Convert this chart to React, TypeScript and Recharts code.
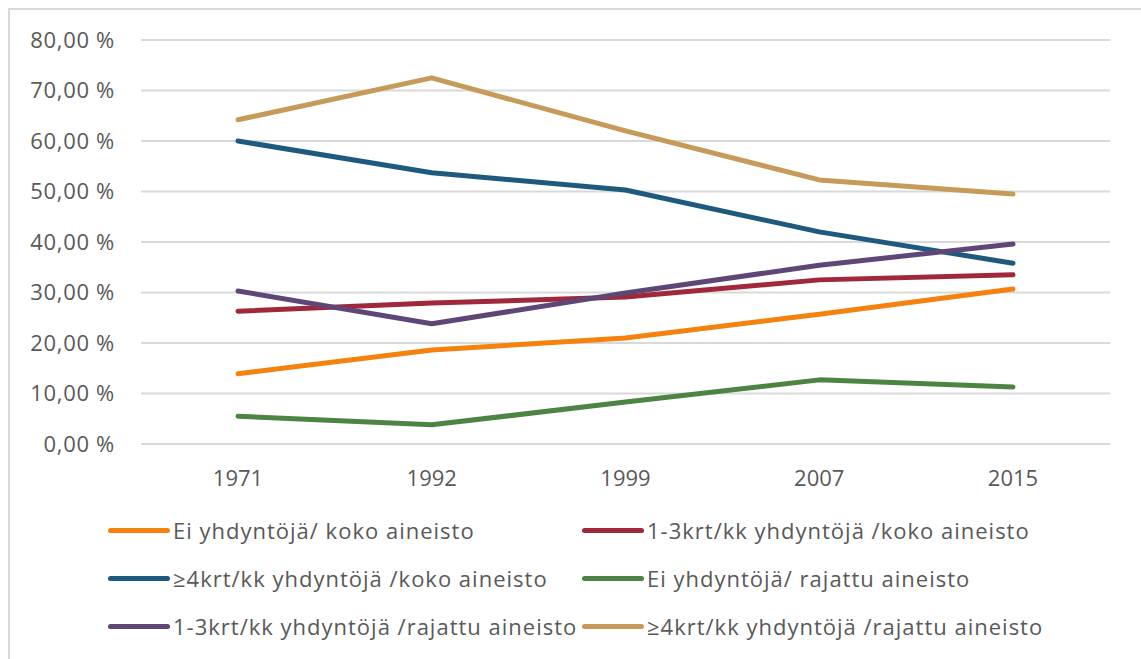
import { LineChart, Line, XAxis, YAxis, CartesianGrid } from 'recharts';

const years = ['1971', '1992', '1999', '2007', '2015'];

const eiKoko = [13.9, 18.6, 21.0, 25.7, 30.7];
const kk13Koko = [26.3, 27.9, 29.1, 32.5, 33.5];
const kk4Koko = [60.0, 53.7, 50.3, 42.0, 35.8];
const eiRajattu = [5.5, 3.8, 8.3, 12.7, 11.3];
const kk13Rajattu = [30.3, 23.8, 29.9, 35.4, 39.6];
const kk4Rajattu = [64.2, 72.5, 62.0, 52.3, 49.5];

const yTicks = [0, 10, 20, 30, 40, 50, 60, 70, 80];

const seriesNames = [
    'Ei yhdyntöjä/ koko aineisto',
    '1-3krt/kk yhdyntöjä /koko aineisto',
    '≥4krt/kk yhdyntöjä /koko aineisto',
    'Ei yhdyntöjä/ rajattu aineisto',
    '1-3krt/kk yhdyntöjä /rajattu aineisto',
    '≥4krt/kk yhdyntöjä /rajattu aineisto',
];
const seriesColors = ['#F5820F', '#A0283A', '#1D5A7E', '#4D8443', '#5E4677', '#C69A58'];
const seriesValues = [eiKoko, kk13Koko, kk4Koko, eiRajattu, kk13Rajattu, kk4Rajattu];

const data = years.map((year, i) => {
    const row: Record<string, string | number> = { year };
    seriesNames.forEach((name, s) => {
        row[name] = seriesValues[s][i];
    });
    return row;
});

const font = "'Open Sans', 'Noto Sans', sans-serif";

function ChartLegend() {
    return (
        <div style={{ position: 'absolute', left: 108, top: 514 }}>
            {seriesNames.map((name, i) => (
                <div
                    key={name}
                    style={{
                        position: 'absolute',
                        left: (i % 2) * 474,
                        top: Math.floor(i / 2) * 48,
                        display: 'flex',
                        alignItems: 'center',
                        whiteSpace: 'nowrap',
                        height: 32,
                    }}
                >
                    <span
                        style={{
                            display: 'inline-block',
                            width: 62,
                            height: 5,
                            borderRadius: 3,
                            background: seriesColors[i],
                            marginRight: 3,
                        }}
                    />
                    <span style={{ fontFamily: font, fontSize: 22, letterSpacing: 1, color: '#595959' }}>{name}</span>
                </div>
            ))}
        </div>
    );
}

export default function App() {
    return (
        <div style={{ position: 'absolute', left: 0, top: 0, width: 1141, height: 659, background: '#fff', overflow: 'hidden' }}>
            <div
                style={{
                    position: 'absolute',
                    left: 8,
                    top: 8,
                    width: 1140,
                    height: 660,
                    border: '2px solid #d9d9d9',
                    boxSizing: 'border-box',
                }}
            />
            <LineChart
                width={1141}
                height={659}
                data={data}
                margin={{ top: 40, right: 31, bottom: 185, left: 31 }}
                style={{ position: 'absolute', left: 0, top: 0 }}
            >
                <CartesianGrid vertical={false} stroke="#d9d9d9" strokeWidth={2} />
                <XAxis
                    dataKey="year"
                    axisLine={false}
                    tickLine={false}
                    height={30}
                    tickMargin={20}
                    padding={{ left: 97, right: 97 }}
                    tick={{ fill: '#595959', fontSize: 22, fontFamily: font }}
                />
                <YAxis
                    domain={[0, 80]}
                    ticks={yTicks}
                    width={110}
                    axisLine={false}
                    tickLine={false}
                    tickSize={0}
                    tickMargin={26}
                    tickFormatter={(v: number) => `${v.toFixed(2).replace('.', ',')} %`}
                    tick={{ fill: '#595959', fontSize: 22, fontFamily: font, letterSpacing: 0.7 }}
                />
                {seriesNames.map((name, i) => (
                    <Line
                        key={name}
                        dataKey={name}
                        stroke={seriesColors[i]}
                        strokeWidth={5}
                        strokeLinecap="round"
                        strokeLinejoin="round"
                        dot={false}
                        activeDot={false}
                        type="linear"
                        isAnimationActive={false}
                    />
                ))}
            </LineChart>
            <ChartLegend />
        </div>
    );
}
